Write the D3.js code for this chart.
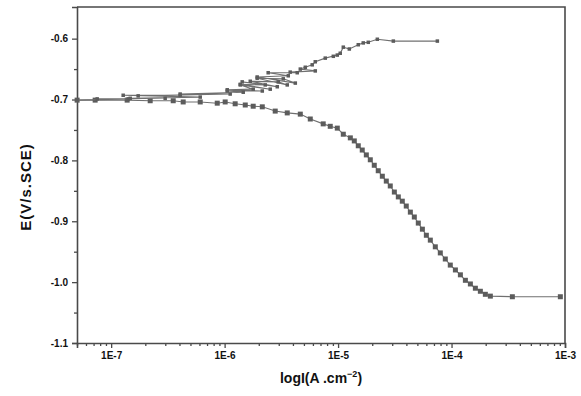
<!DOCTYPE html>
<html>
<head>
<meta charset="utf-8">
<script src="https://cdnjs.cloudflare.com/ajax/libs/d3/7.8.5/d3.min.js"></script>
<style>
  body { margin: 0; background: #fff; }
  svg { display: block; font-family: "Liberation Sans", Arial, sans-serif; }
</style>
</head>
<body>
<div id="chart"></div>
<script>
// cathodic branch, scan order (from -1.02 V up to Ecorr)
const cathodicLogI = [
  -3.041, -3.464, -3.658, -3.702, -3.746, -3.790, -3.834, -3.878, -3.922, -3.966,
  -4.011, -4.055, -4.099, -4.143, -4.187, -4.222, -4.257, -4.293, -4.328, -4.363,
  -4.399, -4.434, -4.469, -4.504, -4.540, -4.575, -4.610, -4.646, -4.681, -4.716,
  -4.751, -4.787, -4.822, -4.857, -4.892, -4.954, -5.007, -5.069, -5.131, -5.245,
  -5.333, -5.448, -5.554, -5.668, -5.748, -5.818, -5.907, -5.995, -6.065, -6.215,
  -6.365, -6.453, -6.656, -6.859, -7.141, -7.300
];
const cathodicE = [
  -1.024, -1.024, -1.023, -1.020, -1.015, -1.010, -1.003, -0.997, -0.988, -0.980,
  -0.972, -0.962, -0.952, -0.942, -0.931, -0.923, -0.913, -0.903, -0.893, -0.885,
  -0.875, -0.867, -0.860, -0.852, -0.842, -0.834, -0.826, -0.817, -0.808, -0.799,
  -0.791, -0.783, -0.776, -0.768, -0.763, -0.757, -0.747, -0.744, -0.740, -0.732,
  -0.724, -0.722, -0.719, -0.712, -0.711, -0.709, -0.707, -0.704, -0.706, -0.704,
  -0.704, -0.702, -0.702, -0.701, -0.701, -0.701
];

// anodic branch, current swings back and forth near Ecorr
const anodicLogI = [
  -7.300, -6.850, -7.123, -6.524, -6.832, -6.215, -6.894, -6.392, -6.762, -5.951,
  -6.392, -5.836, -5.977, -5.668, -5.977, -5.748, -5.862, -5.598, -5.862, -5.642,
  -5.845, -5.536, -5.774, -5.527, -5.448, -5.713, -5.483, -5.377, -5.713, -5.439,
  -5.616, -5.360, -5.422, -5.201, -5.333, -5.289, -5.228, -5.201, -5.113, -5.007,
  -5.042, -4.981, -4.954, -4.901, -4.822, -4.778, -4.734, -4.654, -4.513, -4.125
];
const anodicE = [
  -0.701, -0.699, -0.699, -0.698, -0.698, -0.696, -0.693, -0.693, -0.694, -0.691,
  -0.691, -0.688, -0.686, -0.686, -0.684, -0.683, -0.676, -0.683, -0.675, -0.676,
  -0.671, -0.679, -0.670, -0.671, -0.676, -0.665, -0.666, -0.673, -0.663, -0.661,
  -0.656, -0.656, -0.655, -0.653, -0.650, -0.647, -0.643, -0.638, -0.632, -0.627,
  -0.629, -0.624, -0.614, -0.617, -0.610, -0.607, -0.606, -0.601, -0.604, -0.604
];

const xTicks = [-7, -6, -5, -4, -3];
const yTicks = [-1.1, -1.0, -0.9, -0.8, -0.7, -0.6];

const width = 581, height = 396;
const margin = { top: 7, right: 16, bottom: 53, left: 77 };
const axisColor = "#4a4a4a";
const lineColor = "#707070";
const markColor = "#5c5c5c";

const svg = d3.select("#chart").append("svg")
  .attr("width", width)
  .attr("height", height);

const x = d3.scaleLinear()
  .domain([Math.log10(5e-8), -3])
  .range([margin.left, width - margin.right]);
const y = d3.scaleLinear()
  .domain([-1.1, -0.548])
  .range([height - margin.bottom, margin.top]);

// minor ticks
const xMinor = [];
for (let n = -8; n < -3; n++) {
  for (let k = 2; k <= 9; k++) {
    const v = n + Math.log10(k);
    if (v >= x.domain()[0] && v <= x.domain()[1]) xMinor.push(v);
  }
}
const yMinor = [-1.05, -0.95, -0.85, -0.75, -0.65];

svg.append("g")
  .attr("transform", `translate(0,${height - margin.bottom})`)
  .call(d3.axisBottom(x).tickValues(xMinor).tickSize(3).tickFormat(""))
  .call(g => g.select(".domain").remove());
svg.append("g")
  .attr("transform", `translate(0,${height - margin.bottom})`)
  .call(d3.axisBottom(x).tickValues(xTicks).tickSize(5).tickPadding(4)
    .tickFormat(d => "1E" + d));

svg.append("g")
  .attr("transform", `translate(${margin.left},0)`)
  .call(d3.axisLeft(y).tickValues(yMinor).tickSize(3).tickFormat(""))
  .call(g => g.select(".domain").remove());
svg.append("g")
  .attr("transform", `translate(${margin.left},0)`)
  .call(d3.axisLeft(y).tickValues(yTicks).tickSize(5).tickPadding(4)
    .tickFormat(d => d.toFixed(1)));

svg.selectAll(".tick line").attr("stroke", axisColor).attr("stroke-width", 1.3);
svg.selectAll(".domain").attr("stroke", axisColor).attr("stroke-width", 1.6);
svg.selectAll(".tick text")
  .attr("fill", "#111")
  .attr("font-weight", "bold")
  .attr("font-size", 10)
  .attr("font-family", "'Liberation Sans', Arial, sans-serif");

// frame top + right
svg.append("path")
  .attr("d", `M${margin.left},${margin.top}H${width - margin.right}V${height - margin.bottom}`)
  .attr("fill", "none")
  .attr("stroke", axisColor)
  .attr("stroke-width", 1.6);

const line = d3.line()
  .x(d => x(d[0]))
  .y(d => y(d[1]));

const branches = [
  { data: d3.zip(cathodicLogI, cathodicE), size: 5 },
  { data: d3.zip(anodicLogI, anodicE), size: 3.5 }
];

const plot = svg.append("g");
branches.forEach(b => {
  plot.append("path")
    .datum(b.data)
    .attr("d", line)
    .attr("fill", "none")
    .attr("stroke", lineColor)
    .attr("stroke-width", 1.1);
  plot.selectAll(null)
    .data(b.data)
    .enter().append("rect")
    .attr("x", d => x(d[0]) - b.size / 2)
    .attr("y", d => y(d[1]) - b.size / 2)
    .attr("width", b.size)
    .attr("height", b.size)
    .attr("fill", markColor);
});

// axis titles
const xt = svg.append("text")
  .attr("x", (margin.left + width - margin.right) / 2)
  .attr("y", 383)
  .attr("text-anchor", "middle")
  .attr("font-size", 14)
  .attr("font-weight", "bold")
  .attr("fill", "#111");
xt.append("tspan").text("logI(A .cm");
xt.append("tspan").attr("font-size", 9).attr("dy", -6).text("\u22122");
xt.append("tspan").attr("dy", 6).text(")");

svg.append("text")
  .attr("transform", `translate(31,187) rotate(-90)`)
  .attr("text-anchor", "middle")
  .attr("font-size", 15)
  .attr("font-weight", "bold")
  .attr("letter-spacing", 1)
  .attr("fill", "#111")
  .text("E(V/s.SCE)");
</script>
</body>
</html>
